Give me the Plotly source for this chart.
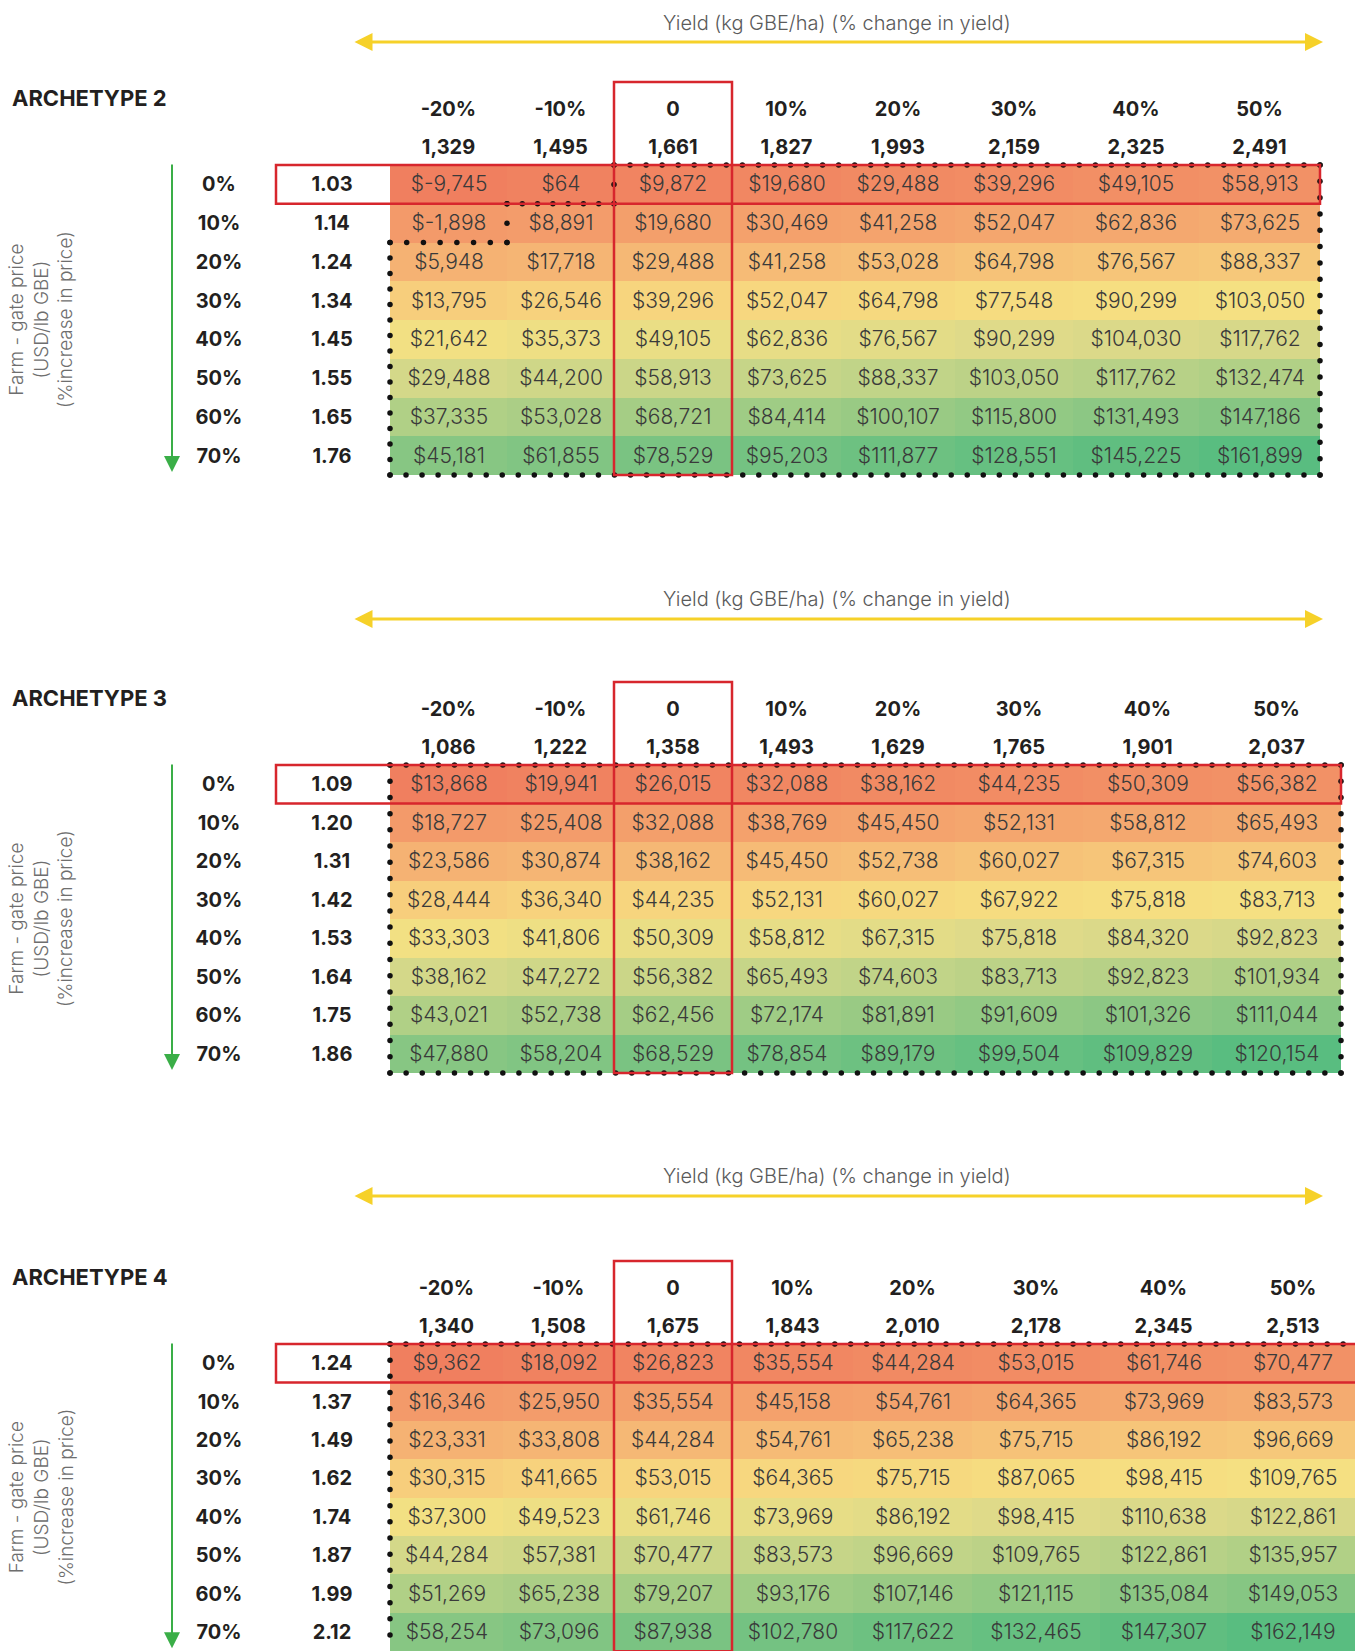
import plotly.graph_objects as go

W, H = 1355, 1651

# ---------------- data ----------------
YIELD_PCT = ["-20%", "-10%", "0", "10%", "20%", "30%", "40%", "50%"]
PRICE_PCT = ["0%", "10%", "20%", "30%", "40%", "50%", "60%", "70%"]
YIELD_TITLE = "Yield (kg GBE/ha) (% change in yield)"
PRICE_TITLE = "Farm - gate price<br>(USD/lb GBE)<br>(%increase in price)"

A2_YIELD = ["1,329", "1,495", "1,661", "1,827", "1,993", "2,159", "2,325", "2,491"]
A2_PRICE = ["1.03", "1.14", "1.24", "1.34", "1.45", "1.55", "1.65", "1.76"]
A2_VALUES = [
    [-9745, 64, 9872, 19680, 29488, 39296, 49105, 58913],
    [-1898, 8891, 19680, 30469, 41258, 52047, 62836, 73625],
    [5948, 17718, 29488, 41258, 53028, 64798, 76567, 88337],
    [13795, 26546, 39296, 52047, 64798, 77548, 90299, 103050],
    [21642, 35373, 49105, 62836, 76567, 90299, 104030, 117762],
    [29488, 44200, 58913, 73625, 88337, 103050, 117762, 132474],
    [37335, 53028, 68721, 84414, 100107, 115800, 131493, 147186],
    [45181, 61855, 78529, 95203, 111877, 128551, 145225, 161899],
]

A3_YIELD = ["1,086", "1,222", "1,358", "1,493", "1,629", "1,765", "1,901", "2,037"]
A3_PRICE = ["1.09", "1.20", "1.31", "1.42", "1.53", "1.64", "1.75", "1.86"]
A3_VALUES = [
    [13868, 19941, 26015, 32088, 38162, 44235, 50309, 56382],
    [18727, 25408, 32088, 38769, 45450, 52131, 58812, 65493],
    [23586, 30874, 38162, 45450, 52738, 60027, 67315, 74603],
    [28444, 36340, 44235, 52131, 60027, 67922, 75818, 83713],
    [33303, 41806, 50309, 58812, 67315, 75818, 84320, 92823],
    [38162, 47272, 56382, 65493, 74603, 83713, 92823, 101934],
    [43021, 52738, 62456, 72174, 81891, 91609, 101326, 111044],
    [47880, 58204, 68529, 78854, 89179, 99504, 109829, 120154],
]

A4_YIELD = ["1,340", "1,508", "1,675", "1,843", "2,010", "2,178", "2,345", "2,513"]
A4_PRICE = ["1.24", "1.37", "1.49", "1.62", "1.74", "1.87", "1.99", "2.12"]
A4_VALUES = [
    [9362, 18092, 26823, 35554, 44284, 53015, 61746, 70477],
    [16346, 25950, 35554, 45158, 54761, 64365, 73969, 83573],
    [23331, 33808, 44284, 54761, 65238, 75715, 86192, 96669],
    [30315, 41665, 53015, 64365, 75715, 87065, 98415, 109765],
    [37300, 49523, 61746, 73969, 86192, 98415, 110638, 122861],
    [44284, 57381, 70477, 83573, 96669, 109765, 122861, 135957],
    [51269, 65238, 79207, 93176, 107146, 121115, 135084, 149053],
    [58254, 73096, 87938, 102780, 117622, 132465, 147307, 162149],
]

BASE_COL = 2          # "0" change-in-yield column (highlighted)
BASE_ROW = 0          # 0% price increase row (highlighted)
THRESHOLD = 1000      # cells enclosed by the dotted outline

# ---------------- layout / style ----------------
TABLES = [
    dict(name="ARCHETYPE 2", yields=A2_YIELD, prices=A2_PRICE, values=A2_VALUES,
         top=165, row_h=38.75, title_y=23, arrow_y=42,
         col_edges=[390, 507, 614, 732, 841, 955, 1073, 1199, 1320]),
    dict(name="ARCHETYPE 3", yields=A3_YIELD, prices=A3_PRICE, values=A3_VALUES,
         top=765, row_h=38.5, title_y=599, arrow_y=619,
         col_edges=[390, 507, 614, 732, 841, 955, 1083, 1212, 1341]),
    dict(name="ARCHETYPE 4", yields=A4_YIELD, prices=A4_PRICE, values=A4_VALUES,
         top=1344, row_h=38.4, title_y=1176, arrow_y=1196,
         col_edges=[390, 503, 614, 732, 853, 972, 1100, 1227, 1359]),
]

COLORSCALE = [
    [0.0, "#F07F5F"], [0.1, "#F39668"], [0.2, "#F4A86F"], [0.3, "#F6BE77"],
    [0.4, "#F7D57E"], [0.48, "#F5E182"], [0.58, "#DEDA89"], [0.68, "#C3D488"],
    [0.78, "#A4CD85"], [0.88, "#82C583"], [1.0, "#59BD80"],
]
FONT = "Inter"
RED = "#D7262D"
YELLOW = "#F6D129"
GREEN = "#3AAE47"
DARK = "#231F20"
CELL_TXT = "#3A3A3A"
GRAY = "#5A5A5A"
DOT_SPACING = 16

X_ARROW = (353, 1323)
X_TITLE = 837
X_LABEL = 10
X_PCT = 219
X_PRICE = 332
X_ROWBOX = 276
X_GREEN = 172
X_YTITLE = 41

fig = go.Figure()
annotations = []
shapes = []


def merge(segs):
    """merge contiguous collinear segments: segs = list of (fixed, a, b)"""
    out = []
    for fixed, a, b in sorted(segs):
        if out and out[-1][0] == fixed and abs(out[-1][2] - a) < 1e-6:
            out[-1][2] = b
        else:
            out.append([fixed, a, b])
    return out


for T in TABLES:
    vals = T["values"]
    nr, nc = len(vals), len(vals[0])
    xe = T["col_edges"]
    ye = [T["top"] + i * T["row_h"] for i in range(nr + 1)]
    xc = [(xe[i] + xe[i + 1]) / 2 for i in range(nc)]
    yc = [(ye[i] + ye[i + 1]) / 2 for i in range(nr)]
    bottom = ye[-1]

    # colour index: mostly per-column scale, slightly global
    flat = [v for row in vals for v in row]
    gmin, gmax = min(flat), max(flat)
    z = []
    for r in range(nr):
        zr = []
        for c in range(nc):
            col = [vals[k][c] for k in range(nr)]
            tc = (vals[r][c] - min(col)) / (max(col) - min(col))
            tg = (vals[r][c] - gmin) / (gmax - gmin)
            zr.append(0.8 * tc + 0.2 * tg)
        z.append(zr)
    text = [["$" + f"{v:,}" for v in row] for row in vals]

    fig.add_trace(go.Heatmap(
        x=xe, y=ye, z=z, zmin=0, zmax=1, colorscale=COLORSCALE, showscale=False,
        text=text, texttemplate="%{text}",
        textfont=dict(family=FONT, size=21, color=CELL_TXT, weight=300),
        hoverinfo="skip", xgap=0, ygap=0,
    ))

    hdr_font = dict(family=FONT, size=20, color=DARK, weight=700)
    fig.add_trace(go.Scatter(x=xc, y=[T["top"] - 54] * nc, mode="text", text=YIELD_PCT,
                             textfont=hdr_font, hoverinfo="skip", showlegend=False))
    fig.add_trace(go.Scatter(x=xc, y=[T["top"] - 16] * nc, mode="text", text=T["yields"],
                             textfont=hdr_font, hoverinfo="skip", showlegend=False))
    fig.add_trace(go.Scatter(x=[X_PCT] * nr, y=[v + 2 for v in yc], mode="text", text=PRICE_PCT,
                             textfont=hdr_font, hoverinfo="skip", showlegend=False))
    fig.add_trace(go.Scatter(x=[X_PRICE] * nr, y=[v + 2 for v in yc], mode="text", text=T["prices"],
                             textfont=hdr_font, hoverinfo="skip", showlegend=False))

    # archetype label
    annotations.append(dict(x=X_LABEL, y=T["top"] - 67, xref="x", yref="y", text=T["name"],
                            showarrow=False, xanchor="left", yanchor="middle",
                            font=dict(family=FONT, size=22, color=DARK, weight=700)))
    # yield title + double arrow
    annotations.append(dict(x=X_TITLE, y=T["title_y"], xref="x", yref="y", text=YIELD_TITLE,
                            showarrow=False,
                            font=dict(family=FONT, size=20, color=GRAY, weight=300)))
    annotations.append(dict(x=X_ARROW[1], y=T["arrow_y"], ax=X_ARROW[0], ay=T["arrow_y"],
                            xref="x", yref="y", axref="x", ayref="y", text="",
                            showarrow=True, arrowhead=2, startarrowhead=2, arrowside="end+start",
                            arrowsize=1.2, startarrowsize=1.2, arrowwidth=3, arrowcolor=YELLOW))
    # vertical green arrow
    annotations.append(dict(x=X_GREEN, y=min(bottom - 3, H - 2), ax=X_GREEN, ay=T["top"] - 2,
                            xref="x", yref="y", axref="x", ayref="y", text="",
                            showarrow=True, arrowhead=2, arrowsize=1.6, arrowwidth=2,
                            arrowcolor=GREEN))
    # rotated price title
    annotations.append(dict(x=X_YTITLE, y=(T["top"] + bottom) / 2, xref="x", yref="y",
                            text=PRICE_TITLE, textangle=-90, showarrow=False,
                            font=dict(family=FONT, size=19, color="#6E6E6E", weight=300)))

    # red highlight boxes
    shapes.append(dict(type="rect", xref="x", yref="y", x0=xe[BASE_COL], x1=xe[BASE_COL + 1],
                       y0=T["top"] - 83, y1=bottom, line=dict(color=RED, width=2.5)))
    shapes.append(dict(type="rect", xref="x", yref="y", x0=X_ROWBOX, x1=xe[-1],
                       y0=ye[BASE_ROW], y1=ye[BASE_ROW + 1], line=dict(color=RED, width=2.5)))

    # dotted outline around cells above threshold
    mask = [[v > THRESHOLD for v in row] for row in vals]
    hsegs, vsegs = [], []
    for r in range(nr):
        for c in range(nc):
            if not mask[r][c]:
                continue
            if r == 0 or not mask[r - 1][c]:
                hsegs.append((ye[r], xe[c], xe[c + 1]))
            if r == nr - 1 or not mask[r + 1][c]:
                hsegs.append((ye[r + 1], xe[c], xe[c + 1]))
            if c == 0 or not mask[r][c - 1]:
                vsegs.append((xe[c], ye[r], ye[r + 1]))
            if c == nc - 1 or not mask[r][c + 1]:
                vsegs.append((xe[c + 1], ye[r], ye[r + 1]))
    dx, dy = [], []
    for y0, a, b in merge(hsegs):
        n = max(1, round((b - a) / DOT_SPACING))
        dx += [a + (b - a) * i / n for i in range(n + 1)]
        dy += [y0] * (n + 1)
    for x0, a, b in merge(vsegs):
        n = max(1, round((b - a) / DOT_SPACING))
        dx += [x0] * (n + 1)
        dy += [a + (b - a) * i / n for i in range(n + 1)]
    fig.add_trace(go.Scatter(x=dx, y=dy, mode="markers",
                             marker=dict(color="#111111", size=5.5, symbol="circle"),
                             hoverinfo="skip", showlegend=False, cliponaxis=False))

fig.update_layout(
    width=W, height=H, margin=dict(l=0, r=0, t=0, b=0),
    paper_bgcolor="white", plot_bgcolor="white", showlegend=False,
    xaxis=dict(range=[0, W], visible=False, fixedrange=True),
    yaxis=dict(range=[H, 0], visible=False, fixedrange=True),
    annotations=annotations, shapes=shapes,
)

fig.write_html("out.html", config={"displayModeBar": False},
               post_script="document.body.style.margin='0px';")
